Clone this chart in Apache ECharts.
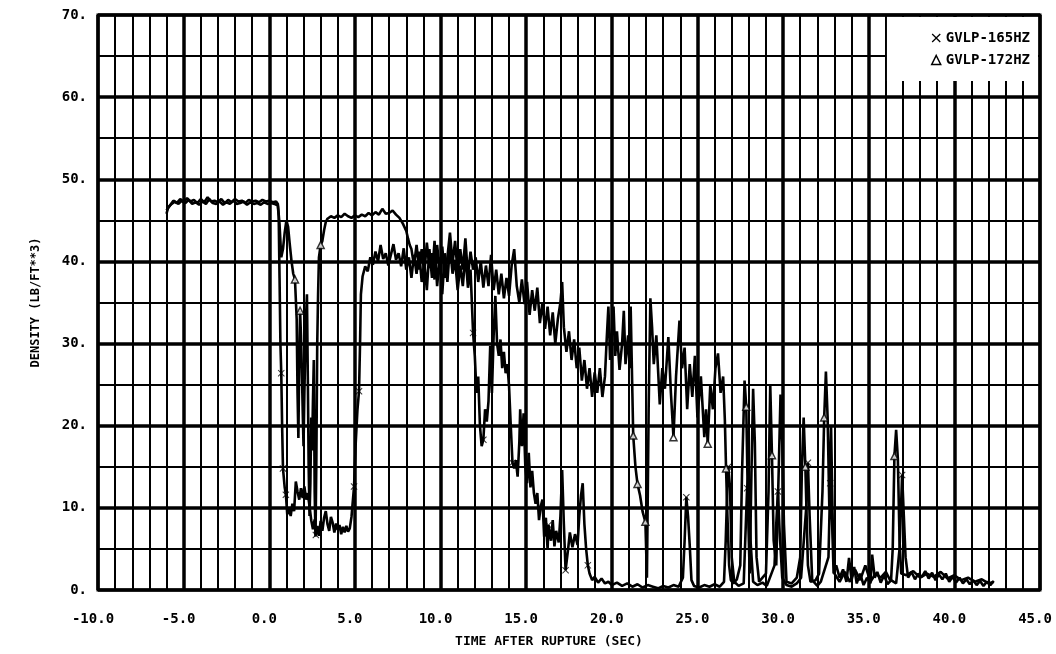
<!DOCTYPE html>
<html>
<head>
<meta charset="utf-8">
<script src="https://cdn.jsdelivr.net/npm/echarts@6/dist/echarts.min.js"></script>
<style>
  html, body { margin: 0; padding: 0; background: #fff; }
  #densityChart { width: 1056px; height: 654px; }
</style>
</head>
<body>
<div id="densityChart"></div>
<script>
// 坐标轴刻度
const xTicks = [-10, -5, 0, 5, 10, 15, 20, 25, 30, 35, 40, 45];
const yTicks = [0, 10, 20, 30, 40, 50, 60, 70];

// 图例名称
const seriesNames = ['GVLP-165HZ', 'GVLP-172HZ'];

// GVLP-165HZ 密度曲线 [时间(s), 密度]
const gvlp165 = [
  [-6.0,45.8],[-5.9,46.6],[-5.7,47.0],[-5.5,47.3],[-5.3,47.0],[-5.1,47.4],[-4.9,47.1],[-4.7,47.5],[-4.5,47.0],[-4.3,47.2],
  [-4.1,46.9],[-3.9,47.3],[-3.7,47.0],[-3.5,47.6],[-3.3,47.1],[-3.1,47.0],[-2.9,47.3],[-2.7,46.9],[-2.5,47.2],[-2.3,47.0],
  [-2.1,47.4],[-1.9,47.0],[-1.7,47.1],[-1.5,47.3],[-1.3,46.9],[-1.1,47.2],[-0.9,47.0],[-0.7,47.1],[-0.5,46.9],[-0.3,47.2],
  [-0.1,47.0],[0.1,47.1],[0.3,47.0],[0.5,46.8],[0.55,45.5],[0.6,38],[0.65,30],[0.7,26.4],[0.75,20],[0.8,14.8],
  [0.9,12.5],[0.97,11.6],[1.05,9.2],[1.15,10.0],[1.25,9.0],[1.35,10.5],[1.45,9.6],[1.55,13.2],[1.65,12.0],[1.75,11.0],
  [1.85,12.4],[1.95,11.2],[2.05,12.6],[2.15,11.0],[2.25,11.8],[2.35,10.2],[2.45,8.5],[2.55,7.4],[2.65,8.6],[2.72,6.7],
  [2.8,7.8],[2.9,6.6],[3.0,8.4],[3.1,7.2],[3.2,8.8],[3.3,9.6],[3.4,8.0],[3.5,7.2],[3.6,8.9],[3.7,8.2],
  [3.8,7.0],[3.9,8.1],[4.0,7.3],[4.1,7.9],[4.2,6.8],[4.3,7.7],[4.4,7.0],[4.5,7.8],[4.6,7.1],[4.7,7.5],
  [4.8,8.9],[4.95,12.6],[5.05,18],[5.15,22],[5.24,24.2],[5.3,30],[5.35,36],[5.45,38.2],[5.6,39.4],[5.75,38.8],
  [5.9,40.5],[6.05,39.6],[6.2,41.2],[6.35,40.0],[6.5,42.0],[6.65,40.3],[6.8,41.0],[6.95,39.5],[7.1,40.8],[7.25,42.1],
  [7.4,40.2],[7.55,41.0],[7.7,39.4],[7.85,41.6],[8.0,39.0],[8.15,40.5],[8.3,38.0],[8.45,40.8],[8.6,38.5],[8.75,41.2],
  [8.9,37.5],[9.05,40.0],[9.2,36.5],[9.35,41.5],[9.5,38.0],[9.65,42.5],[9.8,37.0],[9.95,40.5],[10.1,36.0],[10.25,41.0],
  [10.4,37.5],[10.55,42.0],[10.7,38.5],[10.85,40.2],[11.0,36.5],[11.15,39.5],[11.3,37.0],[11.45,40.8],[11.6,36.8],[11.75,39.0],
  [11.9,31.3],[12.0,28.5],[12.1,24.0],[12.2,26.0],[12.3,20.0],[12.4,17.5],[12.5,18.3],[12.6,22.0],[12.7,20.5],[12.8,23.0],
  [12.9,29.7],[13.0,24.0],[13.1,31.0],[13.2,35.8],[13.3,30.0],[13.4,28.5],[13.5,30.5],[13.6,27.0],[13.7,29.0],[13.8,26.4],
  [13.9,27.5],[14.0,24.8],[14.1,20.0],[14.2,15.5],[14.3,14.8],[14.4,15.8],[14.5,13.8],[14.6,18.0],[14.65,22.0],[14.75,17.5],
  [14.85,21.5],[14.95,15.0],[15.05,13.0],[15.15,16.7],[15.25,12.5],[15.35,14.5],[15.45,11.8],[15.55,10.5],[15.65,11.8],[15.75,8.5],
  [15.85,10.2],[15.95,11.0],[16.05,6.5],[16.15,8.8],[16.25,4.9],[16.3,7.9],[16.45,6.0],[16.55,8.5],[16.65,5.3],[16.75,7.2],
  [16.9,5.8],[17.0,9.0],[17.1,14.6],[17.2,8.0],[17.3,2.4],[17.45,5.0],[17.55,7.0],[17.7,5.2],[17.85,6.8],[18.0,5.5],
  [18.1,9.0],[18.2,11.5],[18.3,13.0],[18.4,8.0],[18.5,5.0],[18.6,3.0],[18.7,2.0],[18.85,1.2],[19.0,1.6],[19.2,0.9],
  [19.4,1.4],[19.6,0.8],[19.8,1.0],[20.0,0.6],[20.3,0.9],[20.6,0.5],[20.9,0.8],[21.2,0.4],[21.5,0.7],[21.8,0.3],
  [22.1,0.6],[22.4,0.4],[22.7,0.2],[23.0,0.5],[23.3,0.3],[23.6,0.6],[23.9,0.4],[24.15,1.5],[24.25,6.0],[24.35,11.3],
  [24.45,9.0],[24.55,5.4],[24.65,1.2],[24.8,0.5],[25.1,0.3],[25.4,0.6],[25.7,0.4],[26.0,0.7],[26.3,0.4],[26.55,1.0],
  [26.65,6.0],[26.75,13.0],[26.8,15.0],[26.9,12.5],[27.0,4.0],[27.15,1.0],[27.4,0.5],[27.7,0.8],[27.9,12.4],[28.0,14.5],
  [28.1,6.0],[28.25,1.0],[28.5,0.6],[28.8,0.9],[29.05,0.5],[29.5,3.0],[29.6,8.0],[29.7,12.0],[29.8,7.0],[29.95,1.5],
  [30.2,0.6],[30.5,0.4],[30.8,0.8],[31.05,1.5],[31.35,10.0],[31.45,15.5],[31.55,9.0],[31.7,1.2],[32.0,0.5],[32.2,1.0],
  [32.65,4.0],[32.75,13.0],[32.85,9.0],[32.95,2.0],[33.1,3.0],[33.3,1.5],[33.5,2.5],[33.7,1.0],[33.85,3.9],[34.0,1.2],
  [34.15,2.8],[34.3,0.8],[34.5,2.0],[34.7,0.6],[34.9,1.5],[35.1,0.8],[35.2,4.3],[35.35,1.5],[35.5,2.2],[35.7,0.9],
  [35.9,1.8],[36.1,0.7],[36.3,1.2],[36.6,0.8],[36.8,5.0],[36.95,14.0],[37.05,9.0],[37.15,4.0],[37.3,1.5],[37.5,2.2],
  [37.7,1.3],[37.9,2.0],[38.1,1.6],[38.3,2.3],[38.5,1.4],[38.7,2.1],[38.9,1.2],[39.1,1.9],[39.3,1.3],[39.5,2.0],
  [39.7,1.0],[39.9,1.6],[40.1,0.9],[40.3,1.5],[40.5,0.8],[40.7,1.3],[40.9,0.7],[41.1,1.2],[41.3,0.6],[41.5,1.1],
  [41.7,0.5],[41.9,1.0],[42.1,0.6],[42.3,1.1]
];

// GVLP-172HZ 密度曲线 [时间(s), 密度]
const gvlp172 = [
  [-6.0,46.2],[-5.8,46.8],[-5.6,47.4],[-5.4,47.1],[-5.2,47.6],[-5.0,47.2],[-4.8,47.7],[-4.6,47.3],[-4.4,47.5],[-4.2,47.1],
  [-4.0,47.6],[-3.8,47.2],[-3.6,47.8],[-3.4,47.3],[-3.2,47.4],[-3.0,47.2],[-2.8,47.6],[-2.6,47.1],[-2.4,47.5],[-2.2,47.2],
  [-2.0,47.6],[-1.8,47.3],[-1.6,47.4],[-1.4,47.1],[-1.2,47.5],[-1.0,47.3],[-0.8,47.4],[-0.6,47.2],[-0.4,47.5],[-0.2,47.3],
  [0.0,47.4],[0.2,47.2],[0.4,47.3],[0.5,47.0],[0.6,44.5],[0.7,40.5],[0.8,41.5],[0.9,43.5],[1.0,45.0],[1.1,44.2],
  [1.2,42.0],[1.3,40.0],[1.4,38.5],[1.5,37.8],[1.6,33.0],[1.65,24.0],[1.7,18.5],[1.75,28.0],[1.8,34.0],[1.85,31.0],
  [1.9,27.0],[1.95,22.0],[2.0,17.5],[2.05,24.0],[2.1,29.0],[2.15,33.5],[2.2,36.0],[2.25,26.0],[2.3,15.0],[2.35,9.0],
  [2.4,13.0],[2.45,21.0],[2.5,17.0],[2.55,23.0],[2.6,28.0],[2.65,12.0],[2.7,6.5],[2.75,16.0],[2.8,30.0],[2.85,36.0],
  [2.9,40.5],[3.0,42.0],[3.1,42.5],[3.2,43.8],[3.3,44.8],[3.4,45.2],[3.6,45.5],[3.8,45.3],[4.0,45.6],[4.2,45.4],
  [4.4,45.8],[4.6,45.5],[4.8,45.3],[5.0,45.6],[5.2,45.4],[5.4,45.7],[5.6,45.5],[5.8,45.9],[6.0,45.6],[6.2,46.0],
  [6.4,45.7],[6.6,46.4],[6.8,45.8],[7.0,45.9],[7.2,46.2],[7.4,45.7],[7.6,45.3],[7.8,44.6],[8.0,43.7],[8.1,42.8],
  [8.2,42.0],[8.3,41.5],[8.45,39.5],[8.6,42.0],[8.75,39.0],[8.9,41.5],[9.05,38.5],[9.2,42.3],[9.35,39.2],[9.5,41.0],
  [9.65,37.8],[9.8,42.0],[9.95,38.8],[10.1,41.8],[10.25,38.0],[10.4,40.5],[10.55,43.5],[10.7,39.8],[10.85,42.5],[11.0,38.5],
  [11.15,41.5],[11.3,39.0],[11.45,42.8],[11.6,38.2],[11.75,41.2],[11.9,39.0],[12.05,40.5],[12.2,37.5],[12.35,40.0],[12.5,36.8],
  [12.65,39.5],[12.8,37.0],[12.95,40.8],[13.1,36.5],[13.25,39.0],[13.4,36.0],[13.55,38.5],[13.7,35.5],[13.85,38.0],[14.0,35.8],
  [14.15,39.5],[14.3,41.5],[14.45,37.0],[14.6,35.0],[14.75,37.8],[14.9,34.8],[15.05,37.5],[15.2,33.5],[15.35,36.5],[15.5,34.0],
  [15.65,36.8],[15.8,32.5],[15.95,35.0],[16.1,31.8],[16.25,34.5],[16.4,31.0],[16.55,33.8],[16.7,30.0],[16.85,33.0],[17.0,35.0],
  [17.1,37.5],[17.2,32.0],[17.35,29.0],[17.5,31.5],[17.65,28.0],[17.8,30.5],[17.95,27.0],[18.1,29.5],[18.25,25.5],[18.4,28.0],
  [18.55,24.5],[18.7,27.0],[18.85,23.5],[19.0,26.5],[19.15,24.0],[19.3,27.0],[19.45,23.5],[19.6,26.0],[19.7,30.5],[19.8,34.5],
  [19.9,28.0],[20.0,31.0],[20.1,34.5],[20.2,28.5],[20.3,31.5],[20.45,26.8],[20.6,30.0],[20.7,34.0],[20.8,27.5],[20.95,31.0],
  [21.05,27.0],[21.1,34.5],[21.2,24.0],[21.25,18.8],[21.38,15.0],[21.5,12.9],[21.65,11.5],[21.8,9.5],[21.96,8.3],[22.05,1.5],
  [22.15,22.0],[22.25,35.5],[22.35,32.0],[22.45,27.5],[22.6,31.0],[22.8,22.6],[22.95,27.0],[23.1,24.5],[23.3,30.8],[23.45,24.0],
  [23.6,18.6],[23.75,26.0],[23.95,32.8],[24.1,27.0],[24.25,29.5],[24.4,22.0],[24.55,27.5],[24.7,23.5],[24.85,28.5],[25.0,21.0],
  [25.2,26.0],[25.4,18.6],[25.5,22.0],[25.6,17.8],[25.75,25.0],[25.9,22.0],[26.05,27.0],[26.2,28.8],[26.35,24.0],[26.5,26.0],
  [26.6,20.7],[26.67,14.8],[26.75,9.0],[26.85,3.0],[26.95,1.2],[27.1,0.8],[27.3,1.3],[27.5,3.0],[27.6,14.0],[27.75,25.5],
  [27.85,22.3],[27.95,10.0],[28.05,2.0],[28.15,14.0],[28.25,24.5],[28.35,18.0],[28.45,4.0],[28.6,1.0],[28.8,1.5],[29.0,2.0],
  [29.15,12.0],[29.25,25.0],[29.35,16.4],[29.45,6.0],[29.6,3.0],[29.75,15.0],[29.85,23.8],[29.95,18.0],[30.05,8.0],[30.2,1.0],
  [30.5,0.8],[30.8,1.5],[31.0,4.0],[31.1,15.0],[31.2,21.0],[31.3,15.0],[31.45,3.0],[31.6,1.0],[31.9,1.2],[32.1,2.0],
  [32.3,12.0],[32.4,21.0],[32.5,26.6],[32.6,21.0],[32.7,10.0],[32.8,20.0],[32.9,8.0],[33.0,2.0],[33.3,1.0],[33.6,2.2],
  [33.9,1.0],[34.2,2.5],[34.5,1.2],[34.8,3.0],[35.1,1.0],[35.4,2.0],[35.7,1.5],[36.0,2.2],[36.3,1.0],[36.4,5.0],
  [36.5,16.3],[36.6,19.5],[36.7,16.0],[36.8,6.0],[36.9,2.0],[37.2,1.8],[37.6,2.3],[38.0,1.5],[38.4,2.0],[38.8,1.6],
  [39.2,2.2],[39.6,1.4],[40.0,1.8],[40.4,1.2],[40.8,1.5],[41.2,1.0],[41.6,1.3],[42.0,0.8],[42.3,1.0]
];

// 曲线上的标记点
const marks165 = [
  [0.7,26.4],[0.8,14.8],[0.97,11.6],[2.72,6.7],[4.95,12.6],[5.24,24.2],[11.9,31.3],[12.5,18.3],[14.2,15.5],
  [16.3,7.9],[17.3,2.4],[18.6,3.0],[24.35,11.3],[26.8,15.0],[27.9,12.4],[29.7,12.0],[31.45,15.5],[32.75,13.0],[36.95,14.0]
];
const marks172 = [
  [1.5,37.8],[1.8,34.0],[3.0,42.0],[21.25,18.8],[21.5,12.9],[21.96,8.3],[23.6,18.6],[25.6,17.8],
  [26.67,14.8],[27.85,22.3],[29.35,16.4],[31.3,15.0],[32.4,21.0],[36.5,16.3]
];

var crossIcon = 'path://M0,1L1,0L5,4L9,0L10,1L6,5L10,9L9,10L5,6L1,10L0,9L4,5Z';
var monoFont = 'DejaVu Sans Mono';

var densityChart = echarts.init(document.getElementById('densityChart'));

var option = {
  animation: false,
  backgroundColor: '#fff',
  grid: {
    left: 98,
    right: 16,
    top: 15,
    bottom: 64,
    show: true,
    borderColor: '#000',
    borderWidth: 3
  },
  legend: {
    orient: 'vertical',
    right: 18,
    top: 17,
    backgroundColor: '#fff',
    padding: [14, 8, 14, 44],
    itemWidth: 9,
    itemHeight: 9,
    itemGap: 8,
    textStyle: { fontFamily: monoFont, fontWeight: 'bold', fontSize: 14, color: '#000' },
    data: [
      { name: seriesNames[0], icon: crossIcon, itemStyle: { color: '#000' } },
      { name: seriesNames[1], icon: 'triangle', itemStyle: { color: '#fff', borderColor: '#000', borderWidth: 1.5 } }
    ]
  },
  xAxis: {
    type: 'value',
    min: xTicks[0],
    max: xTicks[xTicks.length - 1],
    interval: 5,
    name: 'TIME AFTER RUPTURE (SEC)',
    nameLocation: 'middle',
    nameGap: 45,
    nameTextStyle: { fontFamily: monoFont, fontWeight: 'bold', fontSize: 13, color: '#000', padding: [0, 40, 0, 0] },
    axisLine: { show: false },
    axisTick: { show: false },
    axisLabel: {
      margin: 22,
      fontFamily: monoFont,
      fontWeight: 'bold',
      fontSize: 14,
      color: '#000',
      padding: [0, 10, 0, 0],
      formatter: function (v) { return v.toFixed(1); }
    },
    splitLine: { show: true, lineStyle: { color: '#000', width: 3.5 } },
    minorTick: { show: false, splitNumber: 5 },
    minorSplitLine: { show: true, lineStyle: { color: '#000', width: 2 } }
  },
  yAxis: {
    type: 'value',
    min: yTicks[0],
    max: yTicks[yTicks.length - 1],
    interval: 10,
    name: 'DENSITY (LB/FT**3)',
    nameLocation: 'middle',
    nameGap: 56,
    nameTextStyle: { fontFamily: monoFont, fontWeight: 'bold', fontSize: 12, color: '#000' },
    axisLine: { show: false },
    axisTick: { show: false },
    axisLabel: {
      margin: 11,
      fontFamily: monoFont,
      fontWeight: 'bold',
      fontSize: 14,
      color: '#000',
      formatter: function (v) { return v + '.'; }
    },
    splitLine: { show: true, lineStyle: { color: '#000', width: 3.5 } },
    minorTick: { show: false, splitNumber: 2 },
    minorSplitLine: { show: true, lineStyle: { color: '#000', width: 2 } }
  },
  series: [
    {
      name: seriesNames[0],
      type: 'line',
      data: gvlp165,
      showSymbol: false,
      lineStyle: { color: '#000', width: 2.6 },
      itemStyle: { color: '#000' },
      z: 3
    },
    {
      name: seriesNames[1],
      type: 'line',
      data: gvlp172,
      showSymbol: false,
      lineStyle: { color: '#000', width: 2.6 },
      itemStyle: { color: '#000' },
      z: 3
    },
    {
      name: seriesNames[0],
      type: 'scatter',
      data: marks165,
      symbol: crossIcon,
      symbolSize: 7,
      itemStyle: { color: '#000' },
      z: 4
    },
    {
      name: seriesNames[1],
      type: 'scatter',
      data: marks172,
      symbol: 'triangle',
      symbolSize: 7,
      itemStyle: { color: '#fff', borderColor: '#000', borderWidth: 1.5 },
      z: 4
    }
  ]
};

densityChart.setOption(option);
</script>
</body>
</html>
